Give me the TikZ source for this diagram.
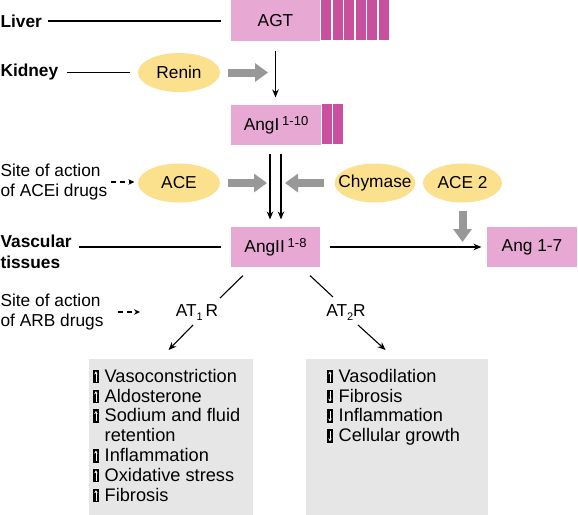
\documentclass[tikz,border=0pt]{standalone}
\usepackage{fontspec}
\setmainfont{Liberation Sans}
\usetikzlibrary{arrows.meta,shapes.geometric}

\definecolor{pinklt}{RGB}{231,168,211}
\definecolor{pinkdk}{RGB}{200,80,158}
\definecolor{enzymefill}{RGB}{251,224,142}
\definecolor{arrowgray}{RGB}{152,152,152}
\definecolor{boxgray}{RGB}{230,230,230}

\newcommand{\upmark}{\tikz[baseline=0pt,x=1pt,y=1pt]{\fill[black] (0,-1) rectangle (6.5,12.5);
    \draw[white,line width=0.7pt,-{Stealth[length=3pt,width=3.5pt]}] (3.25,0.5) -- (3.25,11);}}
\newcommand{\downmark}{\tikz[baseline=0pt,x=1pt,y=1pt]{\fill[black] (0,-1) rectangle (6.5,12.5);
    \draw[white,line width=0.7pt,-{Stealth[length=3pt,width=3.5pt]}] (3.25,11) -- (3.25,0.5);}}

\begin{document}
\begin{tikzpicture}[x=1pt,y=-1pt,
    font=\fontsize{17.3}{19.8}\selectfont,
    >={Stealth[length=8pt,width=6.5pt]},line width=1.1pt,
    organ/.style={anchor=west,inner sep=0pt,align=left,font=\fontsize{17.3}{21}\selectfont\bfseries},
    site/.style={anchor=west,inner sep=0pt,align=left},
    angbox/.style={fill=pinklt,minimum height=40pt,inner sep=0pt},
    enzyme/.style={ellipse,fill=enzymefill,minimum width=82pt,minimum height=39pt,inner xsep=-8pt,inner ysep=0pt},
    grayarrow/.style={arrowgray,line width=8pt,-{Triangle[length=13pt,width=18pt]}},
    dasharrow/.style={dash pattern=on 5pt off 4pt,-{Stealth[length=6pt,width=5.5pt]}},
    effbox/.style={fill=boxgray,anchor=north west,inner sep=0pt,minimum width=#1,minimum height=156pt},
    efflist/.style={anchor=north west,align=left,inner sep=0pt,font=\fontsize{18.2}{19.8}\selectfont}]
    \useasboundingbox (0,0) rectangle (578,514);

    % angiotensin chain
    \node[angbox,minimum width=89pt,minimum height=41pt] (agt) at (275.5,20.5) {AGT};
    \foreach \i in {0,...,5}
        \fill[pinkdk] ([xshift={(\i*11.5+0.8)*1pt}]agt.north east) rectangle ++(10,41);
    \node[angbox,minimum width=90pt] (angI) at (276,125) {AngI\,\raisebox{5pt}{\fontsize{13}{13}\selectfont 1-10}};
    \foreach \i in {0,1}
        \fill[pinkdk] ([xshift={(\i*11+0.8)*1pt}]angI.north east) rectangle ++(9.8,40);
    \node[angbox,minimum width=89pt] (angII) at (275.5,247) {AngII\,\raisebox{5pt}{\fontsize{13}{13}\selectfont 1-8}};
    \node[angbox,minimum width=90pt] (ang17) at (532,247) {Ang 1-7};

    % enzymes
    \node[enzyme] (renin) at (179,72.5) {Renin};
    \node[enzyme] (ace) at (179,183) {ACE};
    \node[enzyme,minimum width=80pt] (chym) at (375,183) {Chymase};
    \node[enzyme,minimum width=79pt] (ace2) at (462.5,183) {ACE 2};

    % left labels
    \node[organ] (liver) at (0,21) {Liver};
    \node[organ] (kidney) at (0,72.5) {Kidney};
    \node[organ] (vasc) at (0,252) {Vascular\\tissues};
    \node[site] (sitea) at (0,182) {Site of action\\of ACEi drugs};
    \node[site] (siteb) at (0,312) {Site of action\\of ARB drugs};

    \draw[shorten <=6pt,shorten >=9pt] (liver.east) -- (liver.east -| agt.west);
    \draw[shorten <=8pt,shorten >=7pt] (kidney.east) -- (renin.west);
    \draw[shorten <=7pt,shorten >=9pt] (vasc.east |- angII.west) -- (angII.west);
    \draw[dasharrow,shorten <=3pt,shorten >=3pt] (sitea.east) -- (sitea.east -| ace.west);
    \coordinate (arbend) at (140,312);
    \draw[dasharrow,shorten <=14pt] (siteb.east) -- (arbend);

    % enzyme action
    \coordinate (reninend) at (268,72.5);
    \coordinate (aceend) at (267,183);
    \coordinate (chymend) at (285,183);
    \coordinate (ace2end) at (462.5,242);
    \draw[grayarrow,shorten <=7pt] (renin.east) -- (reninend);
    \draw[grayarrow,shorten <=7pt] (ace.east) -- (aceend);
    \draw[grayarrow,shorten <=10pt] (chym.west) -- (chymend);
    \draw[grayarrow,shorten <=8pt] (ace2.south) -- (ace2end);

    \draw[->,shorten <=9pt,shorten >=7pt] (agt.south) -- (agt.south |- angI.north);
    \draw[->,shorten <=8pt,shorten >=7pt] ([xshift=-6pt]angI.south) -- ([xshift=-6pt]angI.south |- angII.north);
    \draw[->,shorten <=8pt,shorten >=7pt] ([xshift=5pt]angI.south) -- ([xshift=5pt]angI.south |- angII.north);
    \draw[->,shorten <=9pt,shorten >=5pt] (angII.east) -- (ang17.west);

    % receptors and effects
    \node[inner sep=0pt] (at1) at (197,313) {AT\raisebox{-4pt}{\fontsize{11}{11}\selectfont 1}\,R};
    \node[inner sep=0pt] (at2) at (346,313) {AT\raisebox{-4pt}{\fontsize{11}{11}\selectfont 2}R};
    \node[effbox=164pt] (at1box) at (88,358) {};
    \node[effbox=182pt] (at2box) at (305,358) {};

    \draw ([shift={(-32.5,8)}]angII.south) -- ([shift={(23,-15)}]at1.center);
    \draw[->] ([shift={(-4,12)}]at1.center) -- ([shift={(-2,-8)}]at1box.north);
    \draw ([shift={(34.5,8)}]angII.south) -- ([shift={(-13,-16)}]at2.center);
    \draw[->] ([shift={(12,12)}]at2.center) -- ([shift={(-11,-8)}]at2box.north);

    \node[efflist] (at1list) at ([shift={(4.5,11)}]at1box.north west)
        {\upmark\hspace{5.5pt}Vasoconstriction\\
         \upmark\hspace{5.5pt}Aldosterone\\
         \upmark\hspace{5.5pt}Sodium and fluid\\
         \hspace*{12pt}retention\\
         \upmark\hspace{5.5pt}Inflammation\\
         \upmark\hspace{5.5pt}Oxidative stress\\
         \upmark\hspace{5.5pt}Fibrosis};
    \node[efflist] (at2list) at ([shift={(21.5,11)}]at2box.north west)
        {\upmark\hspace{5.5pt}Vasodilation\\
         \downmark\hspace{5.5pt}Fibrosis\\
         \downmark\hspace{5.5pt}Inflammation\\
         \downmark\hspace{5.5pt}Cellular growth};
\end{tikzpicture}
\end{document}
